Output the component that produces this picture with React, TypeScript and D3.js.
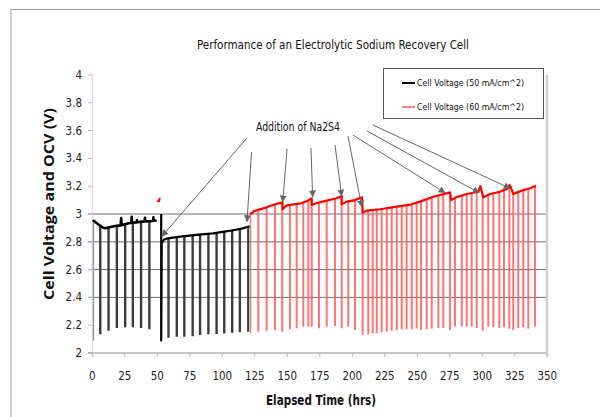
import React from "react";
import * as d3 from "d3";

// ---------- data ----------
const X_TICKS = [0, 25, 50, 75, 100, 125, 150, 175, 200, 225, 250, 275, 300, 325, 350];
const Y_TICKS = [2, 2.2, 2.4, 2.6, 2.8, 3, 3.2, 3.4, 3.6, 3.8, 4];
const Y_TICK_LABELS = ["2", "2.2", "2.4", "2.6", "2.8", "3", "3.2", "3.4", "3.6", "3.8", "4"];
const GRID_VALUES = [2.4, 2.6, 2.8, 3];

const TITLE = "Performance of an Electrolytic Sodium Recovery Cell";
const X_TITLE = "Elapsed Time (hrs)";
const Y_TITLE = "Cell Voltage and OCV (V)";
const LEGEND = ["Cell Voltage (50 mA/cm^2)", "Cell Voltage (60 mA/cm^2)"];
const ANNOTATION = "Addition of Na2S4";

// 50 mA/cm^2 series – top curve segments [hrs, V]
const BLACK_SEG_A: [number, number][] = [
  [0.3, 2.955], [2, 2.945], [4, 2.93], [6, 2.916], [8, 2.903], [10, 2.897], [13, 2.905],
  [17.6, 2.914], [21.8, 2.918], [22.2, 2.97], [22.6, 2.92], [27.9, 2.933], [30, 2.935],
  [30.3, 2.98], [30.6, 2.937], [34, 2.94], [34.3, 2.955], [34.6, 2.941], [38.1, 2.945],
  [40.3, 2.946], [40.5, 2.973], [40.8, 2.947], [46.7, 2.95], [47, 2.976], [47.3, 2.951], [49.5, 2.953],
];
const BLACK_SEG_B: [number, number][] = [
  [53, 3.0], [53, 2.09], [53.4, 2.79], [55, 2.815], [58, 2.825], [67.5, 2.837], [80, 2.85],
  [93, 2.861], [105, 2.878], [115, 2.895], [121, 2.912],
];
// OCV drops [hrs, bottom V]
const BLACK_DROPS: [number, number][] = [
  [0.5, 2.09], [6.1, 2.134], [12.5, 2.16], [18.9, 2.18], [25.3, 2.185], [31.2, 2.185],
  [37.5, 2.18], [43.9, 2.17], [58.6, 2.11], [65, 2.117], [70.8, 2.117], [77.2, 2.12],
  [82.9, 2.13], [89.3, 2.134], [95.6, 2.137], [101.5, 2.14], [107.6, 2.145], [113.5, 2.15], [120, 2.153],
];

// 60 mA/cm^2 series
const RED_CURVE: [number, number][] = [
  [121.3, 3.0], [123.5, 3.01], [124, 3.02], [134, 3.048], [139, 3.065], [146.3, 3.084],
  [146.3, 3.034], [149.6, 3.062], [160.6, 3.077], [165.7, 3.096], [168.8, 3.113],
  [168.8, 3.065], [172, 3.077], [180.3, 3.096], [188, 3.113], [191.8, 3.13],
  [191.8, 3.07], [195.7, 3.089], [202, 3.1], [207.5, 3.12],
  [208, 3.01], [211, 3.024], [221.4, 3.034], [234.2, 3.053], [245, 3.068], [252, 3.089],
  [262.3, 3.124], [275.2, 3.156],
  [276, 3.1], [280, 3.12], [288, 3.144], [297, 3.16], [298.5, 3.2], [299.5, 3.165],
  [300.8, 3.12], [306, 3.144], [313.6, 3.16], [320, 3.185], [321, 3.209], [322, 3.19],
  [323.8, 3.144], [330.3, 3.168], [336.7, 3.185], [341.3, 3.204],
];
const RED_DROPS: [number, number][] = [
  [121.5, 2.142], [127.7, 2.153], [134.1, 2.16], [140.5, 2.165], [146.1, 2.153], [152.1, 2.17],
  [157.2, 2.178], [162.3, 2.19], [166.2, 2.19], [168.8, 2.19], [174.4, 2.178], [180.3, 2.19],
  [186.7, 2.195], [191.8, 2.178], [196.9, 2.19], [202.1, 2.165], [208, 2.13], [212.3, 2.135],
  [215.7, 2.142], [218.8, 2.142], [222.6, 2.148], [226.5, 2.153], [230.3, 2.16], [234.2, 2.165],
  [238, 2.17], [241.8, 2.17], [245.7, 2.17], [249.5, 2.178], [252.8, 2.165], [257.2, 2.17],
  [261.1, 2.175], [266.2, 2.18], [270, 2.18], [275.2, 2.165], [279, 2.19], [284.2, 2.19],
  [288, 2.19], [291.8, 2.19], [295.7, 2.18], [300.3, 2.16], [304.6, 2.19], [308.5, 2.185],
  [313.1, 2.18], [316.7, 2.185], [320.8, 2.175], [323.8, 2.165], [327.7, 2.18], [331.5, 2.185],
  [335.4, 2.175], [340.5, 2.19],
];
const RED_BLIP: [number, number][] = [[49.7, 3.089], [51.4, 3.094], [51.9, 3.117]];

// annotation arrows, in data units [hrs, V]
const ARROWS: { from: [number, number]; to: [number, number] }[] = [
  { from: [119, 3.547], to: [53.6, 2.84] },
  { from: [122.5, 3.446], to: [119, 2.946] },
  { from: [149.8, 3.468], to: [146.5, 3.088] },
  { from: [168.2, 3.475], to: [169.5, 3.124] },
  { from: [186.7, 3.496], to: [191.8, 3.13] },
  { from: [196.7, 3.561], to: [207.2, 3.053] },
  { from: [200.5, 3.568], to: [271.3, 3.153] },
  { from: [211.3, 3.597], to: [297.5, 3.153] },
  { from: [215.9, 3.64], to: [321.3, 3.185] },
];
const ANNOTATION_AT: [number, number] = [158.2, 3.597];

// ---------- layout ----------
const W = 600;
const H = 417;
const FONT = '"Liberation Sans Narrow", "Arial Narrow", "DejaVu Sans Condensed", "Liberation Sans", Arial, sans-serif';
const BOLD_FONT = '"Open Sans", "Liberation Sans", Arial, sans-serif';

export default function App() {
  const x = d3.scaleLinear().domain([0, 350]).range([92.3, 547.3]);
  const y = d3.scaleLinear().domain([2, 4]).range([353, 75]);

  const line = d3.line<[number, number]>().x((d) => x(d[0])).y((d) => y(d[1]));
  const area = d3
    .area<[number, number]>()
    .x((d) => x(d[0]))
    .y0(y(2))
    .y1((d) => y(d[1]));

  const dropTop = 3.4;

  return (
    <svg
      width={W}
      height={H}
      viewBox={`0 0 ${W} ${H}`}
      style={{ position: "absolute", left: 0, top: 0, background: "#fff" }}
    >
      <defs>
        <clipPath id="clipBlack">
          <path d={area(BLACK_SEG_A) || ""} />
          <path d={area(BLACK_SEG_B) || ""} />
        </clipPath>
        <clipPath id="clipRed">
          <path d={area(RED_CURVE) || ""} />
        </clipPath>
        <marker
          id="arrowHead"
          viewBox="0 0 10 10"
          refX="9"
          refY="5"
          markerWidth="7"
          markerHeight="7"
          markerUnits="userSpaceOnUse"
          orient="auto"
        >
          <path d="M0,0 L10,5 L0,10 z" fill="#666" />
        </marker>
      </defs>

      {/* outer frame */}
      <path d={`M11,${H} L11,9.5 L${W},9.5`} fill="none" stroke="#9a9a9a" strokeWidth={1} />

      {/* title */}
      <text
        x={333}
        y={49}
        textAnchor="middle"
        fontFamily={FONT}
        fontSize={13}
        fill="#111"
        textLength={272}
        lengthAdjust="spacingAndGlyphs"
      >
        {TITLE}
      </text>

      {/* gridlines */}
      {GRID_VALUES.map((v) => (
        <line key={v} x1={88} x2={x(350)} y1={y(v)} y2={y(v)} stroke="#6e6e6e" strokeWidth={1} />
      ))}

      {/* y axis */}
      <line x1={x(0)} x2={x(0)} y1={y(4)} y2={y(2)} stroke="#d8d8d8" strokeWidth={1} />
      {Y_TICKS.map((v, i) => (
        <g key={v}>
          <line x1={88} x2={x(0)} y1={y(v)} y2={y(v)} stroke="#bbb" strokeWidth={1} />
          <text
            x={82}
            y={y(v) + 4}
            textAnchor="end"
            fontFamily={FONT}
            fontSize={11.5}
            fill="#222"
          >
            {Y_TICK_LABELS[i]}
          </text>
        </g>
      ))}

      {/* x axis */}
      <line x1={88} x2={x(350)} y1={y(2)} y2={y(2)} stroke="#8a8a8a" strokeWidth={1} />
      {X_TICKS.map((t) => (
        <g key={t}>
          <line x1={x(t)} x2={x(t)} y1={y(2)} y2={y(2) + 4} stroke="#bbb" strokeWidth={1} />
          <text x={x(t)} y={380} textAnchor="middle" fontFamily={FONT} fontSize={11.5} fill="#222">
            {t}
          </text>
        </g>
      ))}

      {/* right border of plot */}
      <line x1={547} x2={547} y1={75} y2={357} stroke="#cfcfcf" strokeWidth={2.5} />

      {/* axis titles */}
      <text
        x={321}
        y={405}
        textAnchor="middle"
        fontFamily={FONT}
        fontWeight="bold"
        fontSize={13.5}
        fill="#111"
        textLength={110}
        lengthAdjust="spacingAndGlyphs"
      >
        {X_TITLE}
      </text>
      <text
        transform={`translate(54,${204}) rotate(-90)`}
        textAnchor="middle"
        fontFamily={BOLD_FONT}
        fontWeight="bold"
        fontSize={13.5}
        fill="#111"
        textLength={192}
        lengthAdjust="spacingAndGlyphs"
      >
        {Y_TITLE}
      </text>

      {/* OCV drops */}
      <g clipPath="url(#clipBlack)">
        {BLACK_DROPS.map(([t, b], i) => (
          <line
            key={i}
            x1={x(t)}
            x2={x(t)}
            y1={y(b)}
            y2={y(dropTop)}
            stroke={i === 0 ? "#9a9a9a" : "#3c3c3c"}
            strokeWidth={2.4}
          />
        ))}
      </g>
      <g clipPath="url(#clipRed)">
        {RED_DROPS.map(([t, b], i) => (
          <line
            key={i}
            x1={x(t)}
            x2={x(t)}
            y1={y(b)}
            y2={y(dropTop)}
            stroke="#ff5a5a"
            strokeOpacity={0.85}
            strokeWidth={2}
          />
        ))}
      </g>

      {/* top curves */}
      <path d={line(BLACK_SEG_A) || ""} fill="none" stroke="#000" strokeWidth={2.6} strokeLinejoin="round" />
      <path d={line(BLACK_SEG_B) || ""} fill="none" stroke="#000" strokeWidth={2.2} strokeLinejoin="round" />
      <path d={line(RED_CURVE) || ""} fill="none" stroke="#ff0000" strokeWidth={2.2} strokeLinejoin="round" />
      <path d={line(RED_BLIP) || ""} fill="none" stroke="#ff0000" strokeWidth={2} />

      {/* annotation */}
      <text
        x={x(ANNOTATION_AT[0])}
        y={y(ANNOTATION_AT[1])}
        textAnchor="middle"
        fontFamily={FONT}
        fontSize={12.5}
        fill="#111"
        textLength={84}
        lengthAdjust="spacingAndGlyphs"
      >
        {ANNOTATION}
      </text>
      {ARROWS.map((a, i) => (
        <line
          key={i}
          x1={x(a.from[0])}
          y1={y(a.from[1])}
          x2={x(a.to[0])}
          y2={y(a.to[1])}
          stroke="#666"
          strokeWidth={1}
          markerEnd="url(#arrowHead)"
        />
      ))}

      {/* legend */}
      <rect x={383.5} y={68.5} width={160} height={50} fill="#fff" stroke="#555" strokeWidth={1} />
      <line x1={402} x2={415} y1={83} y2={83} stroke="#000" strokeWidth={2} />
      <text
        x={417}
        y={86}
        fontFamily={FONT}
        fontSize={9.5}
        fill="#111"
        textLength={107}
        lengthAdjust="spacingAndGlyphs"
      >
        {LEGEND[0]}
      </text>
      <line x1={402} x2={415} y1={107} y2={107} stroke="#ff0000" strokeWidth={1} />
      <text
        x={417}
        y={110}
        fontFamily={FONT}
        fontSize={9.5}
        fill="#111"
        textLength={107}
        lengthAdjust="spacingAndGlyphs"
      >
        {LEGEND[1]}
      </text>
    </svg>
  );
}
